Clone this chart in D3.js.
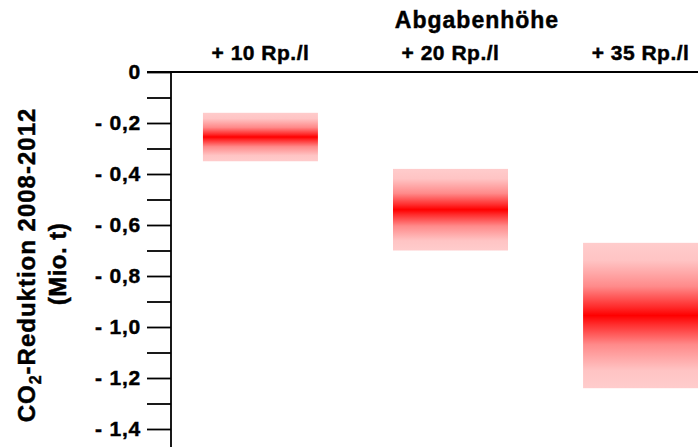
<!DOCTYPE html>
<html>
<head>
<meta charset="utf-8">
<script src="https://cdn.jsdelivr.net/npm/d3@7"></script>
<style>
  html, body { margin: 0; padding: 0; background: #fff; }
  svg { display: block; }
  text { font-family: "Liberation Sans", Arial, Helvetica, sans-serif; font-weight: bold; fill: #000; stroke: #000; stroke-width: 0.45px; }
</style>
</head>
<body>
<svg id="chart" width="698" height="447"></svg>
<script>
const categories = ["+ 10 Rp./l", "+ 20 Rp./l", "+ 35 Rp./l"];
const upperValues = [-0.16, -0.38, -0.67];
const lowerValues = [-0.35, -0.70, -1.24];
const tickValues = d3.range(0, 15).map(i => -i / 10);
const labelTicks = [0, -0.2, -0.4, -0.6, -0.8, -1.0, -1.2, -1.4];
const titleText = "Abgabenhöhe";

const svg = d3.select("#chart");
const W = 698, H = 447;

const y = d3.scaleLinear().domain([0, -1.5]).range([72, 454.5]);
const x = d3.scaleBand().domain(categories).range([165.5, 735.5])
  .paddingInner(0.395).paddingOuter(0.197);

// gradient
const defs = svg.append("defs");
const grad = defs.append("linearGradient").attr("id", "redGrad")
  .attr("x1", 0).attr("y1", 0).attr("x2", 0).attr("y2", 1);
[[0, "#ffcccc"], [0.12, "#ffc4c4"], [0.3, "#ff8a8a"], [0.44, "#ff2c2c"], [0.5, "#ff0000"],
 [0.56, "#ff2c2c"], [0.7, "#ff8a8a"], [0.88, "#ffc4c4"], [1, "#ffcccc"]].forEach(s => {
  grad.append("stop").attr("offset", s[0]).attr("stop-color", s[1]);
});

const data = categories.map((c, i) => ({ c, hi: upperValues[i], lo: lowerValues[i] }));

svg.append("g").selectAll("rect").data(data).join("rect")
  .attr("x", d => x(d.c))
  .attr("width", x.bandwidth())
  .attr("y", d => y(d.hi))
  .attr("height", d => y(d.lo) - y(d.hi))
  .attr("fill", "url(#redGrad)");

// zero line extending across
svg.append("line")
  .attr("x1", 147).attr("x2", W)
  .attr("y1", y(0)).attr("y2", y(0))
  .attr("stroke", "#000").attr("stroke-width", 1.8);

// y axis
const fmt = v => v === 0 ? "0" : "- " + d3.format(".1f")(Math.abs(v)).replace(".", ",");
const yAxis = d3.axisLeft(y).tickValues(tickValues).tickSize(24).tickPadding(6)
  .tickFormat(v => labelTicks.some(t => Math.abs(t - v) < 1e-9) ? fmt(v) : "");
const ga = svg.append("g").attr("transform", "translate(171,0)").call(yAxis);
ga.select(".domain").remove();
ga.selectAll(".tick line").attr("stroke", "#000").attr("stroke-width", 1.8);
ga.selectAll(".tick text").attr("font-size", 21).attr("letter-spacing", "0.8px")
  .attr("fill", "#000").attr("stroke", "#000").attr("stroke-width", 0.45)
  .style("font-family", "'Liberation Sans', Arial, sans-serif").style("font-weight", "bold");
svg.append("line")
  .attr("x1", 171).attr("x2", 171)
  .attr("y1", y(0)).attr("y2", H)
  .attr("stroke", "#000").attr("stroke-width", 1.8);

// category labels at top
svg.append("g").selectAll("text").data(categories).join("text")
  .attr("x", d => x(d) + x.bandwidth() / 2)
  .attr("y", 60)
  .attr("text-anchor", "middle")
  .attr("font-size", 21)
  .attr("letter-spacing", "0.5px")
  .text(d => d);

// title
svg.append("text")
  .attr("x", 477).attr("y", 28)
  .attr("text-anchor", "middle")
  .attr("font-size", 23)
  .attr("letter-spacing", "1px")
  .text(titleText);

// y label
const yl = svg.append("text")
  .attr("transform", "translate(35,265) rotate(-90)")
  .attr("text-anchor", "middle")
  .attr("font-size", 24)
  .attr("letter-spacing", "1px");
yl.append("tspan").text("CO");
yl.append("tspan").attr("font-size", 16).attr("dy", 6).text("2");
yl.append("tspan").attr("dy", -6).text("-Reduktion 2008-2012");

svg.append("text")
  .attr("transform", "translate(65.5,264) rotate(-90)")
  .attr("text-anchor", "middle")
  .attr("font-size", 24)
  .attr("letter-spacing", "0.5px")
  .text("(Mio. t)");
</script>
</body>
</html>
